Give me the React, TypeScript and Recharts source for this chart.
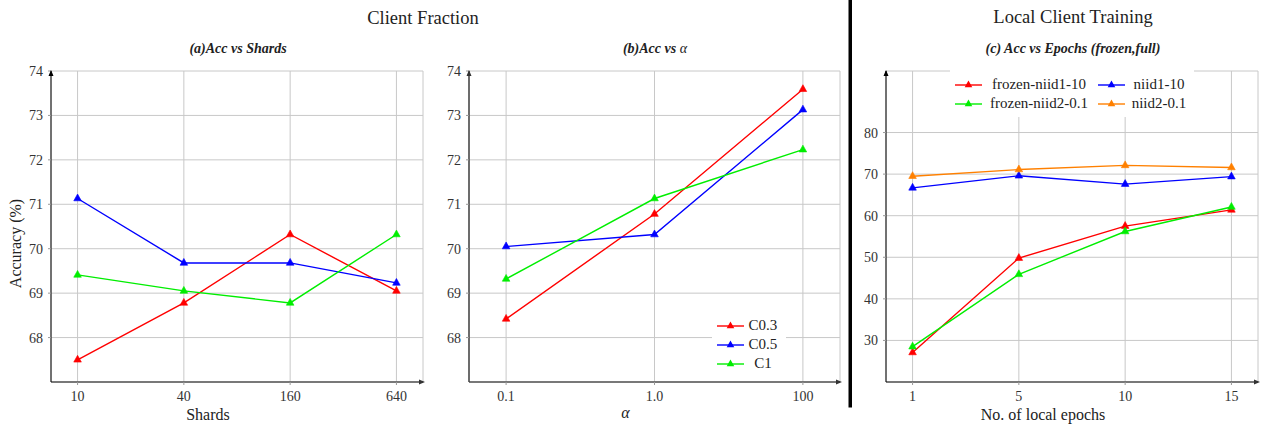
import React from 'react';
import { LineChart, Line, XAxis, YAxis, CartesianGrid, Legend } from 'recharts';

// ---------- data ----------
const shardLabels = ['10', '40', '160', '640'];
const shardC03 = [67.5, 68.78, 70.32, 69.05];
const shardC05 = [71.13, 69.68, 69.68, 69.23];
const shardC1 = [69.41, 69.05, 68.78, 70.32];

const alphaLabels = ['0.1', '1.0', '100'];
const alphaC03 = [68.42, 70.78, 73.59];
const alphaC05 = [70.05, 70.32, 73.13];
const alphaC1 = [69.32, 71.13, 72.23];

const epochLabels = ['1', '5', '10', '15'];
const frozenNiid1 = [27.1, 49.8, 57.5, 61.4];
const niid1 = [66.7, 69.6, 67.6, 69.4];
const frozenNiid2 = [28.5, 45.9, 56.2, 62.1];
const niid2 = [69.5, 71.1, 72.1, 71.6];

const accTicks = [68, 69, 70, 71, 72, 73, 74];
const epochAccTicks = [30, 40, 50, 60, 70, 80];

const legendOrderB = ['C0.3', 'C0.5', 'C1'];
const legendOrderC = ['frozen-niid1-10', 'niid1-10', 'frozen-niid2-0.1', 'niid2-0.1'];

const dataA = shardLabels.map((l, i) => ({ x: i, label: l, c03: shardC03[i], c05: shardC05[i], c1: shardC1[i] }));
const dataB = alphaLabels.map((l, i) => ({ x: i, label: l, c03: alphaC03[i], c05: alphaC05[i], c1: alphaC1[i] }));
const dataC = epochLabels.map((l, i) => ({
  x: i,
  label: l,
  fn1: frozenNiid1[i],
  n1: niid1[i],
  fn2: frozenNiid2[i],
  n2: niid2[i],
}));

// ---------- styles ----------
const FONT = "'Liberation Serif', 'DejaVu Serif', serif";
const RED = '#ff0000';
const BLUE = '#0000ff';
const GREEN = '#00ee00';
const ORANGE = '#ff8000';
const GRID = '#c8c8c8';

const tri = (color: string) => (props: any) => {
  const { cx, cy, index } = props;
  if (cx == null || cy == null) return <g key={`e-${index}`} />;
  return (
    <polygon
      key={`t-${index}`}
      points={`${cx},${cy - 4.5} ${cx - 3.8},${cy + 2.3} ${cx + 3.8},${cy + 2.3}`}
      fill={color}
      stroke={color}
      strokeWidth={0.6}
    />
  );
};

const LegendIcon = ({ color }: { color: string }) => (
  <svg width={27} height={10} style={{ display: 'block', flex: 'none' }}>
    <line x1={0} y1={5} x2={27} y2={5} stroke={color} strokeWidth={1.4} />
    <polygon points="13.5,0.5 9.7,7.3 17.3,7.3" fill={color} />
  </svg>
);

const orderPayload = (payload: any[], order: string[]) =>
  [...payload].sort((a, b) => order.indexOf(String(a.value)) - order.indexOf(String(b.value)));

const renderLegendB = (props: any) => {
  const payload = orderPayload(props.payload || [], legendOrderB);
  return (
    <div style={{ background: '#fff', padding: '1px 4px 3px 5px', fontFamily: FONT, fontSize: 15, color: '#222' }}>
      {payload.map((p: any) => (
        <div key={p.value} style={{ display: 'flex', alignItems: 'center', height: 19 }}>
          <LegendIcon color={p.color} />
          <span style={{ width: 30, textAlign: 'center', marginLeft: 4, lineHeight: '19px' }}>{p.value}</span>
        </div>
      ))}
    </div>
  );
};

const renderLegendC = (props: any) => {
  const payload = orderPayload(props.payload || [], legendOrderC);
  const textW = [108, 62];
  return (
    <div
      style={{
        background: '#fff',
        padding: '5px 4px 4px 5px',
        fontFamily: FONT,
        fontSize: 15,
        color: '#222',
        display: 'grid',
        gridTemplateColumns: '138px 92px',
        columnGap: 5,
      }}
    >
      {payload.map((p: any, i: number) => (
        <div key={p.value} style={{ display: 'flex', alignItems: 'center', height: 19 }}>
          <LegendIcon color={p.color} />
          <span style={{ width: textW[i % 2], textAlign: 'center', marginLeft: 3, lineHeight: '19px', whiteSpace: 'nowrap' }}>
            {p.value}
          </span>
        </div>
      ))}
    </div>
  );
};

const tickStyle = { fill: '#333', fontSize: 14, fontFamily: FONT };
const xAxisLine = { stroke: '#555', strokeWidth: 1.5 };
const yAxisLine = { stroke: '#000', strokeWidth: 1 };
const tickLineStyle = { stroke: '#999' };

const commonX = (labels: string[], n: number) => ({
  type: 'number' as const,
  dataKey: 'x',
  domain: [-0.25, n - 1 + 0.25],
  ticks: labels.map((_, i) => i),
  tickFormatter: (v: number) => labels[v] ?? '',
  height: 40,
  axisLine: xAxisLine,
  tickLine: tickLineStyle,
  tickSize: 3,
  tickMargin: 6,
  tick: tickStyle,
  allowDataOverflow: true,
  interval: 0 as const,
});

const axisLabelStyle = { fontSize: 16, fill: '#222', fontFamily: FONT };

export default function App() {
  return (
    <div style={{ position: 'absolute', left: 0, top: 0, width: 1266, height: 429, background: '#fff', overflow: 'hidden', fontFamily: FONT }}>
      {/* Panel A */}
      <div style={{ position: 'absolute', left: 0, top: 0 }}>
        <LineChart width={430} height={429} data={dataA} margin={{ top: 71, right: 7, bottom: 7, left: 0 }}>
          <CartesianGrid stroke={GRID} strokeWidth={1} />
          <XAxis
            {...commonX(shardLabels, 4)}
            label={{ value: 'Shards', position: 'insideBottom', offset: 2, dx: -29, style: axisLabelStyle }}
          />
          <YAxis
            type="number"
            domain={[67, 74]}
            ticks={accTicks}
            width={51}
            axisLine={yAxisLine}
            tickLine={tickLineStyle}
            tickSize={3}
            tickMargin={5}
            tick={tickStyle}
            allowDataOverflow
            interval={0}
            label={{ value: 'Accuracy (%)', angle: -90, position: 'insideLeft', offset: 15, dy: 17, style: { ...axisLabelStyle, textAnchor: 'middle' } }}
          />
          <Line dataKey="c03" name="C0.3" stroke={RED} strokeWidth={1.4} dot={tri(RED)} activeDot={false} isAnimationActive={false} />
          <Line dataKey="c05" name="C0.5" stroke={BLUE} strokeWidth={1.4} dot={tri(BLUE)} activeDot={false} isAnimationActive={false} />
          <Line dataKey="c1" name="C1" stroke={GREEN} strokeWidth={1.4} dot={tri(GREEN)} activeDot={false} isAnimationActive={false} />
        </LineChart>
      </div>

      {/* Panel B */}
      <div style={{ position: 'absolute', left: 420, top: 0 }}>
        <LineChart width={428} height={429} data={dataB} margin={{ top: 71, right: 8, bottom: 7, left: 0 }}>
          <CartesianGrid stroke={GRID} strokeWidth={1} />
          <XAxis
            {...commonX(alphaLabels, 3)}
            label={{ value: 'α', position: 'insideBottom', offset: 4, dx: -29, style: { ...axisLabelStyle, fontStyle: 'italic' } }}
          />
          <YAxis
            type="number"
            domain={[67, 74]}
            ticks={accTicks}
            width={49}
            axisLine={{ stroke: '#444', strokeWidth: 1.5 }}
            tickLine={tickLineStyle}
            tickSize={3}
            tickMargin={5}
            tick={tickStyle}
            allowDataOverflow
            interval={0}
          />
          <Legend
            layout="vertical"
            align="center"
            verticalAlign="middle"
            content={renderLegendB}
            wrapperStyle={{ left: 292, top: 315, width: 74 }}
          />
          <Line dataKey="c03" name="C0.3" stroke={RED} strokeWidth={1.4} dot={tri(RED)} activeDot={false} isAnimationActive={false} />
          <Line dataKey="c05" name="C0.5" stroke={BLUE} strokeWidth={1.4} dot={tri(BLUE)} activeDot={false} isAnimationActive={false} />
          <Line dataKey="c1" name="C1" stroke={GREEN} strokeWidth={1.4} dot={tri(GREEN)} activeDot={false} isAnimationActive={false} />
        </LineChart>
      </div>

      {/* Panel C */}
      <div style={{ position: 'absolute', left: 852, top: 0 }}>
        <LineChart width={414} height={429} data={dataC} margin={{ top: 71, right: 8, bottom: 7, left: 0 }}>
          <CartesianGrid stroke={GRID} strokeWidth={1} />
          <XAxis
            {...commonX(epochLabels, 4)}
            label={{ value: 'No. of local epochs', position: 'insideBottom', offset: 2, dx: -29, style: axisLabelStyle }}
          />
          <YAxis
            type="number"
            domain={[20, 94.8]}
            ticks={epochAccTicks}
            width={34}
            axisLine={yAxisLine}
            tickLine={tickLineStyle}
            tickSize={3}
            tickMargin={5}
            tick={tickStyle}
            allowDataOverflow
            interval={0}
          />
          <Legend
            layout="vertical"
            align="center"
            verticalAlign="middle"
            content={renderLegendC}
            wrapperStyle={{ left: 98, top: 70, width: 244 }}
          />
          <Line dataKey="fn1" name="frozen-niid1-10" stroke={RED} strokeWidth={1.4} dot={tri(RED)} activeDot={false} isAnimationActive={false} />
          <Line dataKey="n1" name="niid1-10" stroke={BLUE} strokeWidth={1.4} dot={tri(BLUE)} activeDot={false} isAnimationActive={false} />
          <Line dataKey="fn2" name="frozen-niid2-0.1" stroke={GREEN} strokeWidth={1.4} dot={tri(GREEN)} activeDot={false} isAnimationActive={false} />
          <Line dataKey="n2" name="niid2-0.1" stroke={ORANGE} strokeWidth={1.4} dot={tri(ORANGE)} activeDot={false} isAnimationActive={false} />
        </LineChart>
      </div>

      {/* Titles, arrows, separator */}
      <svg width={1266} height={429} style={{ position: 'absolute', left: 0, top: 0, pointerEvents: 'none' }}>
        <text x={423} y={24} textAnchor="middle" fontFamily={FONT} fontSize={18.5} fill="#222">Client Fraction</text>
        <text x={1073} y={23} textAnchor="middle" fontFamily={FONT} fontSize={18.5} fill="#222">Local Client Training</text>
        <text x={238} y={53} textAnchor="middle" fontFamily={FONT} fontSize={14} fontWeight="bold" fontStyle="italic" fill="#222">(a)Acc vs Shards</text>
        <text x={655} y={53} textAnchor="middle" fontFamily={FONT} fontSize={14} fontStyle="italic" fill="#222">
          <tspan fontWeight="bold">(b)Acc vs </tspan>
          <tspan>α</tspan>
        </text>
        <text x={1073} y={53} textAnchor="middle" fontFamily={FONT} fontSize={14} fontWeight="bold" fontStyle="italic" fill="#222">(c) Acc vs Epochs (frozen,full)</text>

        {/* y-axis arrows */}
        <polygon points="51,70 48.5,76 53.5,76" fill="#000" />
        <polygon points="469,70 466.5,76 471.5,76" fill="#333" />
        <polygon points="886,70 883.5,76 888.5,76" fill="#000" />
        {/* x-axis arrows */}
        <polygon points="425,382 419,379.5 419,384.5" fill="#333" />
        <polygon points="842,382 836,379.5 836,384.5" fill="#333" />
        <polygon points="1260,382 1254,379.5 1254,384.5" fill="#333" />

        {/* separator */}
        <rect x={848.5} y={0} width={3.5} height={407.5} fill="#000" />
      </svg>
    </div>
  );
}
